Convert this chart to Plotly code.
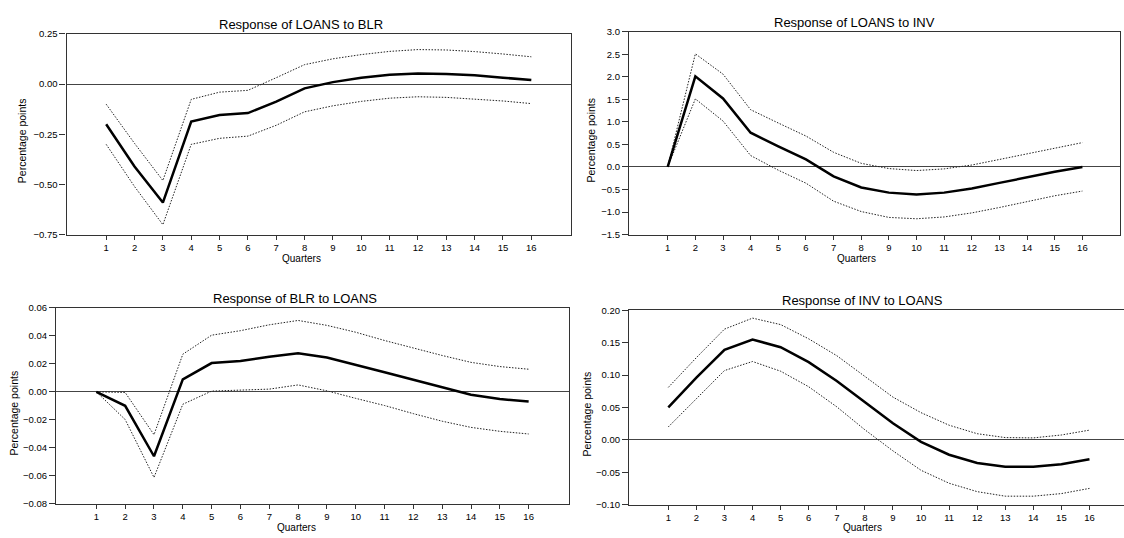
import plotly.graph_objects as go

W, H = 1124, 538

quarters = list(range(1, 17))

# Response of LOANS to BLR
loans_blr_mid = [-0.20, -0.41, -0.59, -0.186, -0.154, -0.144, -0.087, -0.021, 0.010, 0.032, 0.047, 0.053, 0.050, 0.044, 0.032, 0.020]
loans_blr_up = [-0.10, -0.295, -0.48, -0.076, -0.040, -0.031, 0.032, 0.097, 0.126, 0.147, 0.163, 0.172, 0.170, 0.162, 0.150, 0.136]
loans_blr_lo = [-0.30, -0.51, -0.70, -0.300, -0.270, -0.259, -0.205, -0.138, -0.108, -0.086, -0.070, -0.063, -0.066, -0.074, -0.084, -0.097]

# Response of LOANS to INV
loans_inv_mid = [0.0, 2.01, 1.52, 0.76, 0.455, 0.166, -0.21, -0.455, -0.57, -0.614, -0.57, -0.477, -0.354, -0.224, -0.108, 0.0]
loans_inv_up = [0.0, 2.51, 2.06, 1.27, 0.975, 0.686, 0.325, 0.08, -0.036, -0.08, -0.043, 0.043, 0.166, 0.296, 0.42, 0.54]
loans_inv_lo = [0.0, 1.51, 1.02, 0.253, -0.072, -0.36, -0.76, -0.99, -1.12, -1.15, -1.11, -1.02, -0.90, -0.77, -0.64, -0.535]

# Response of BLR to LOANS
blr_loans_mid = [0.0, -0.010, -0.046, 0.0089, 0.0205, 0.022, 0.025, 0.0275, 0.0245, 0.0194, 0.014, 0.0086, 0.0035, -0.0021, -0.0051, -0.007]
blr_loans_up = [0.0, -0.0005, -0.0306, 0.0268, 0.0404, 0.0436, 0.0478, 0.0509, 0.0474, 0.0425, 0.0366, 0.031, 0.0259, 0.021, 0.018, 0.0161]
blr_loans_lo = [0.0, -0.0198, -0.0611, -0.0089, 0.0005, 0.0014, 0.0019, 0.0049, 0.0007, -0.0047, -0.0098, -0.0156, -0.021, -0.0254, -0.0282, -0.0301]

# Response of INV to LOANS
inv_loans_mid = [0.0503, 0.096, 0.139, 0.155, 0.143, 0.120, 0.091, 0.058, 0.0256, -0.003, -0.023, -0.0357, -0.0417, -0.0417, -0.0377, -0.030]
inv_loans_up = [0.081, 0.127, 0.171, 0.188, 0.178, 0.156, 0.130, 0.0985, 0.066, 0.042, 0.0226, 0.0095, 0.0035, 0.003, 0.0075, 0.015]
inv_loans_lo = [0.020, 0.064, 0.107, 0.121, 0.106, 0.082, 0.051, 0.0156, -0.017, -0.047, -0.067, -0.080, -0.087, -0.087, -0.083, -0.075]

titles = ["Response of LOANS to BLR", "Response of LOANS to INV",
          "Response of BLR to LOANS", "Response of INV to LOANS"]

y_ranges = [[-0.75, 0.25], [-1.5, 3.0], [-0.08, 0.06], [-0.10, 0.20]]
y_dtick = [0.25, 0.5, 0.02, 0.05]
y_fmt = [".2f", ".1f", ".2f", ".2f"]

panels = [
    (loans_blr_mid, loans_blr_up, loans_blr_lo),
    (loans_inv_mid, loans_inv_up, loans_inv_lo),
    (blr_loans_mid, blr_loans_up, blr_loans_lo),
    (inv_loans_mid, inv_loans_up, inv_loans_lo),
]

# pixel boxes: left, right, top, bottom
boxes = [(66.5, 571, 28.5, 233.5), (629, 1120, 26.3, 233.3),
         (56, 569, 308, 508.3), (629, 1124, 310.7, 509)]
x_ranges = [[-0.4, 17.4], [-0.4, 17.36], [-0.4, 17.4], [-0.4, 17.23]]
mirror_y = [True, True, True, False]
title_pos = [(301, 18.5), (854.6, 16.5), (295, 298.5), (862, 300.5)]
xtitle_pos = [(301, 258), (856, 258), (296, 532), (862, 532)]
ytitle_pos = [(22, 138), (591.4, 137), (14.3, 415.7), (587, 417)]

FONT = "Liberation Sans, Arial, Helvetica, sans-serif"


def px_x(v):
    return v / W


def px_y(v):
    return 1 - v / H


fig = go.Figure()
layout = dict(width=W, height=H, margin=dict(l=0, r=0, t=0, b=0),
              paper_bgcolor="white", plot_bgcolor="white", showlegend=False,
              font=dict(family=FONT, color="black"))
annotations = []

for i, ((mid, up, lo), box) in enumerate(zip(panels, boxes)):
    n = i + 1
    xa = "x" if n == 1 else f"x{n}"
    ya = "y" if n == 1 else f"y{n}"
    for series, width, dash, col in ((up, 1, "1.5px,1.5px", "#222"), (lo, 1, "1.5px,1.5px", "#222"),
                                     (mid, 2.5, "solid", "black")):
        fig.add_trace(go.Scatter(x=quarters, y=series, mode="lines", xaxis=xa, yaxis=ya,
                                 line=dict(color=col, width=width, dash=dash),
                                 hoverinfo="skip"))
    l, r, t, b = box
    xkey = "xaxis" if n == 1 else f"xaxis{n}"
    ykey = "yaxis" if n == 1 else f"yaxis{n}"
    layout[xkey] = dict(domain=[max(0, px_x(l)), min(1, px_x(r))], range=x_ranges[i], anchor=ya,
                        tickmode="array", tickvals=quarters, ticktext=[str(q) for q in quarters],
                        ticks="outside", ticklen=4, tickcolor="#333", tickwidth=1,
                        showline=True, linecolor="#333", linewidth=1.2, mirror=True,
                        showgrid=False, zeroline=False,
                        tickfont=dict(size=9.5, family=FONT))
    layout[ykey] = dict(domain=[px_y(b), px_y(t)], range=y_ranges[i], anchor=xa,
                        tick0=y_ranges[i][0], dtick=y_dtick[i], tickformat=y_fmt[i],
                        ticks="outside", ticklen=6, tickcolor="#333", tickwidth=1,
                        showline=True, linecolor="#333", linewidth=1.2,
                        mirror=mirror_y[i],
                        showgrid=False, zeroline=True, zerolinecolor="#444", zerolinewidth=1.3,
                        tickfont=dict(size=9.5, family=FONT))
    tx, ty = title_pos[i]
    annotations.append(dict(text=titles[i], x=px_x(tx), y=px_y(ty), xref="paper", yref="paper",
                            showarrow=False, xanchor="center", yanchor="middle",
                            font=dict(size=13, family=FONT)))
    qx, qy = xtitle_pos[i]
    annotations.append(dict(text="Quarters", x=px_x(qx), y=px_y(qy), xref="paper", yref="paper",
                            showarrow=False, xanchor="center", yanchor="middle",
                            font=dict(size=10, family=FONT)))
    pxx, pyy = ytitle_pos[i]
    annotations.append(dict(text="Percentage points", x=px_x(pxx), y=px_y(pyy), xref="paper", yref="paper",
                            showarrow=False, xanchor="center", yanchor="middle", textangle=-90,
                            font=dict(size=10.5, family=FONT)))

layout["annotations"] = annotations
fig.update_layout(**layout)
fig.write_html("out.html",
               config={"displayModeBar": False},
               post_script="document.body.style.margin='0';document.body.style.overflow='hidden';")
